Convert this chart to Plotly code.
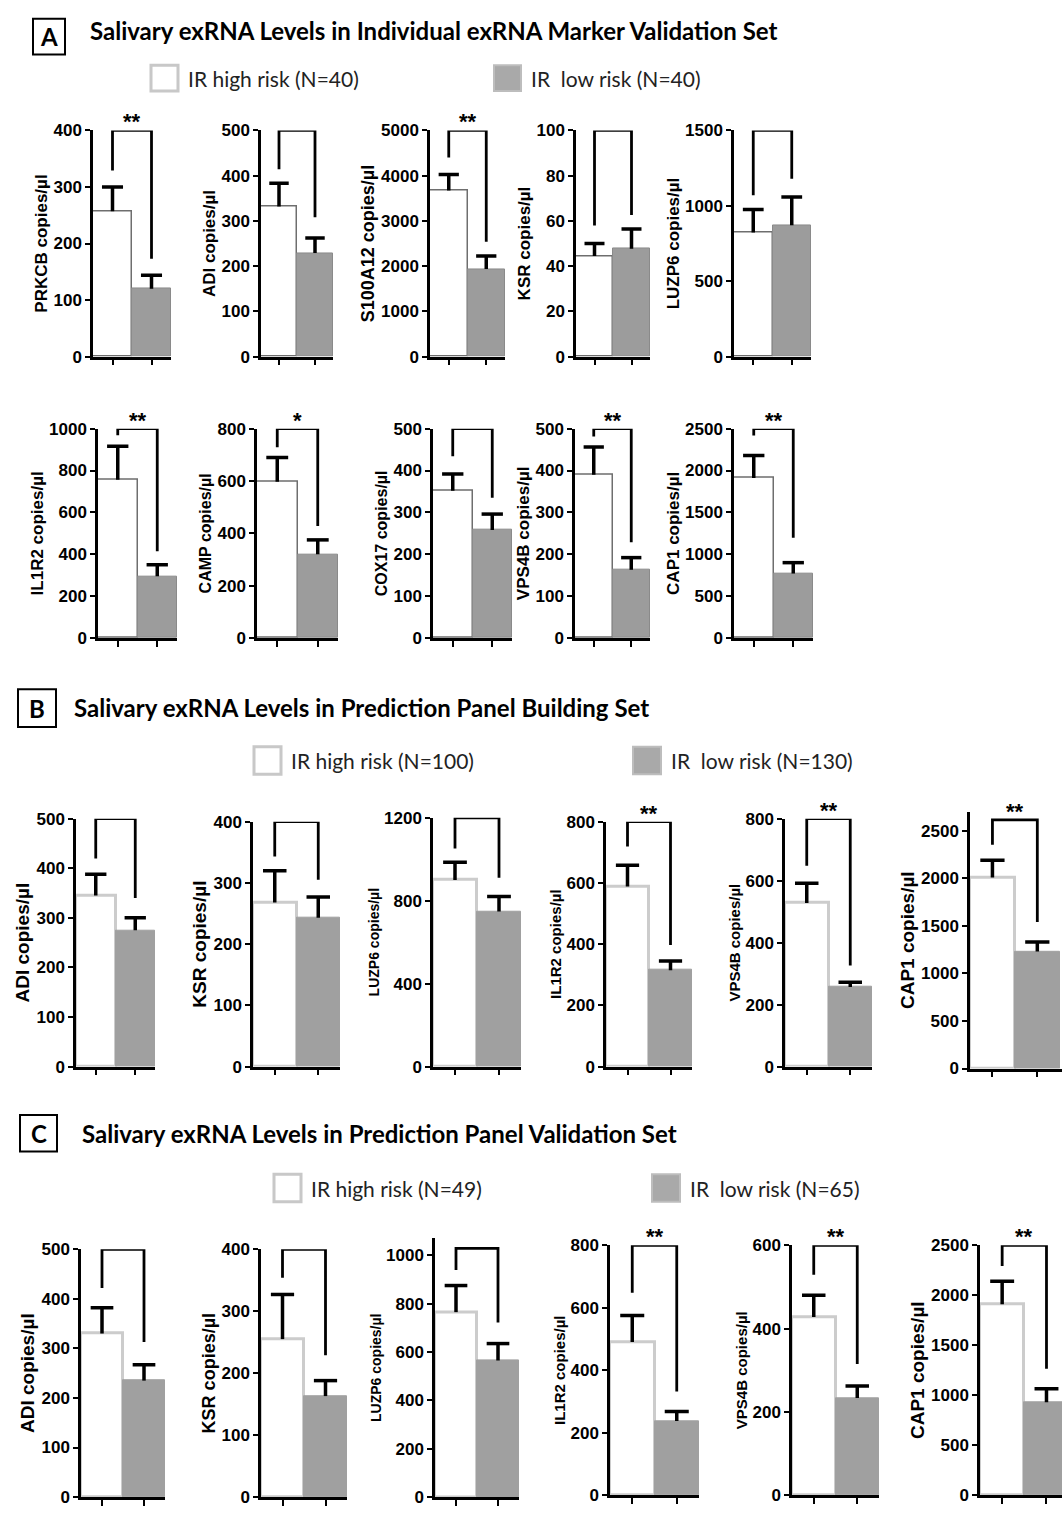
import plotly.graph_objects as go

W, H = 1062, 1515

# ---------------- DATA ----------------
# Section A: Individual exRNA Marker Validation Set
A_genes = ["PRKCB", "ADI", "S100A12", "KSR", "LUZP6", "IL1R2", "CAMP", "COX17", "VPS4B", "CAP1"]
A_high = [257, 332, 3670, 44.5, 823, 756, 597, 352, 390, 1910]
A_high_sem = [43, 51, 355, 5.5, 153, 160, 93, 40, 66, 270]
A_low = [120, 229, 1936, 47.7, 871, 295, 320, 258, 163, 770]
A_low_sem = [24, 33, 289, 8.7, 188, 55, 55, 38, 29, 130]
A_sig = ["**", "", "**", "", "", "**", "*", "", "**", "**"]
A_brk_top = [400, 500, 5000, 100, 1500, 1000, 800, 500, 500, 2500]
A_brk_left = [329, 414, 4400, 58, 1070, 968, 729, 434, 481, 2417]
A_brk_right = [173, 308, 2540, 62.6, 1179, 415, 428, 335, 229, 1197]
A_ytick_max = [400, 500, 5000, 100, 1500, 1000, 800, 500, 500, 2500]
A_dtick = [100, 100, 1000, 20, 500, 200, 200, 100, 100, 500]
A_ytop = [400, 500, 5000, 100, 1500, 1000, 800, 500, 500, 2500]

# Section B: Prediction Panel Building Set
B_genes = ["ADI", "KSR", "LUZP6", "IL1R2", "VPS4B", "CAP1"]
B_high = [345, 268, 900, 588, 528, 2010]
B_high_sem = [43, 52, 85, 70, 64, 180]
B_low = [275, 243, 748, 315, 257, 1230]
B_low_sem = [25, 34, 72, 30, 15, 100]
B_sig = ["", "", "", "**", "**", "**"]
B_brk_top = [500, 400, 1200, 800, 800, 2615]
B_brk_left = [420, 343, 1052, 719, 648, 2354]
B_brk_right = [340, 305, 910, 397, 326, 1540]
B_ytick_max = [500, 400, 1200, 800, 800, 2500]
B_dtick = [100, 100, 400, 200, 200, 500]
B_ytop = [500, 400, 1200, 800, 800, 2700]

# Section C: Prediction Panel Validation Set
C_genes = ["ADI", "KSR", "LUZP6", "IL1R2", "VPS4B", "CAP1"]
C_high = [330, 255, 765, 490, 428, 1910]
C_high_sem = [52, 72, 110, 85, 52, 230]
C_low = [235, 163, 565, 237, 233, 930]
C_low_sem = [32, 25, 70, 31, 29, 135]
C_sig = ["", "", "", "**", "**", "**"]
C_brk_top = [500, 400, 1029, 800, 600, 2500]
C_brk_left = [422, 354, 939, 648, 529, 2292]
C_brk_right = [313, 229, 722, 332, 315, 1265]
C_ytick_max = [500, 400, 1000, 800, 600, 2500]
C_dtick = [100, 100, 200, 200, 200, 500]
C_ytop = [500, 400, 1070, 800, 600, 2500]

# Text
sec_letters = ["A", "B", "C"]
sec_titles = [
    "Salivary exRNA Levels in Individual exRNA Marker Validation Set",
    "Salivary exRNA Levels in Prediction Panel Building Set",
    "Salivary exRNA Levels in Prediction Panel Validation Set",
]
legend_high = ["IR high risk (N=40)", "IR high risk (N=100)", "IR high risk (N=49)"]
legend_low = ["IR  low risk (N=40)", "IR  low risk (N=130)", "IR  low risk (N=65)"]

# ---------------- LAYOUT (pixel geometry) ----------------
A_left = [93, 261, 430, 576, 734, 98, 257, 433, 575, 734]
A_right = [171, 333, 505, 650, 811, 177, 338, 512, 650, 813]
A_top = [123] * 5 + [425] * 5
A_bot = [352] * 5 + [637] * 5
A_xmax = [1.5] * 10
A_tsize = [17, 17, 18, 17, 17, 17, 16, 16, 17, 17]
B_left = [76, 253, 433, 606, 785, 970]
B_right = [155, 340, 521, 692, 872, 1062]
B_top = [820, 823, 819, 823, 820, 813]
B_bot = [1071, 1071, 1071, 1071, 1071, 1073]
B_xmax = [1.5, 1.5, 1.5, 1.5, 1.5, 1.55]
B_tsize = [19, 19, 14, 15, 15, 19]
C_left = [81, 261, 435, 610, 792, 980]
C_right = [165, 347, 519, 699, 879, 1062]
C_top = [1256, 1256, 1245, 1252, 1252, 1252]
C_bot = [1507, 1507, 1507, 1505, 1505, 1505]
C_xmax = [1.5, 1.5, 1.5, 1.5, 1.5, 1.35]
C_tsize = [19, 18, 14, 15, 15, 19]
CAP_HALF = 0.27  # error-bar cap half width, in bar widths


def fx(p):
    return p / W


def fy(p):
    return 1 - p / H


TICK_FONT = dict(family="Liberation Sans, Arial, sans-serif", size=17, color="black", weight="bold")
TITLE_FAMILY = "Liberation Sans, Arial, sans-serif"

sections = [
    dict(genes=A_genes, high=A_high, hs=A_high_sem, low=A_low, ls=A_low_sem, sig=A_sig,
         bt=A_brk_top, bl=A_brk_left, br=A_brk_right, tmax=A_ytick_max, dt=A_dtick, ytop=A_ytop,
         left=A_left, right=A_right, top=A_top, bot=A_bot, xmax=A_xmax, tsize=A_tsize,
         white_line="#6e6e6e", white_lw=1.5, grey="#9c9c9c", grey_line="#8a8a8a"),
    dict(genes=B_genes, high=B_high, hs=B_high_sem, low=B_low, ls=B_low_sem, sig=B_sig,
         bt=B_brk_top, bl=B_brk_left, br=B_brk_right, tmax=B_ytick_max, dt=B_dtick, ytop=B_ytop,
         left=B_left, right=B_right, top=B_top, bot=B_bot, xmax=B_xmax, tsize=B_tsize,
         white_line="#cccccc", white_lw=3, grey="#a0a0a0", grey_line="#a0a0a0"),
    dict(genes=C_genes, high=C_high, hs=C_high_sem, low=C_low, ls=C_low_sem, sig=C_sig,
         bt=C_brk_top, bl=C_brk_left, br=C_brk_right, tmax=C_ytick_max, dt=C_dtick, ytop=C_ytop,
         left=C_left, right=C_right, top=C_top, bot=C_bot, xmax=C_xmax, tsize=C_tsize,
         white_line="#cccccc", white_lw=3, grey="#a0a0a0", grey_line="#a0a0a0"),
]

fig = go.Figure()
layout_axes = {}
annotations = []
shapes = []

n = 0
for sec in sections:
    for i, gene in enumerate(sec["genes"]):
        n += 1
        xa = "x" if n == 1 else f"x{n}"
        ya = "y" if n == 1 else f"y{n}"
        xkey = "xaxis" if n == 1 else f"xaxis{n}"
        ykey = "yaxis" if n == 1 else f"yaxis{n}"
        h, hs, lo, ls = sec["high"][i], sec["hs"][i], sec["low"][i], sec["ls"][i]

        fig.add_trace(go.Bar(
            x=[0, 1], y=[h, lo], width=1,
            marker=dict(color=["white", sec["grey"]],
                        line=dict(color=[sec["white_line"], sec["grey_line"]],
                                  width=[sec["white_lw"], 1])),
            xaxis=xa, yaxis=ya, showlegend=False, hoverinfo="skip",
        ))
        # upper-only error bars (stem + cap)
        fig.add_trace(go.Scatter(
            x=[0, 0, None, -CAP_HALF, CAP_HALF, None, 1, 1, None, 1 - CAP_HALF, 1 + CAP_HALF],
            y=[h, h + hs, None, h + hs, h + hs, None, lo, lo + ls, None, lo + ls, lo + ls],
            mode="lines", line=dict(color="black", width=3.5),
            xaxis=xa, yaxis=ya, showlegend=False, hoverinfo="skip", cliponaxis=False,
        ))
        # significance bracket
        fig.add_trace(go.Scatter(
            x=[0, 0, 1, 1], y=[sec["bl"][i], sec["bt"][i], sec["bt"][i], sec["br"][i]],
            mode="lines", line=dict(color="black", width=2.8),
            xaxis=xa, yaxis=ya, showlegend=False, hoverinfo="skip", cliponaxis=False,
        ))
        if sec["sig"][i]:
            annotations.append(dict(
                x=0.5, y=sec["bt"][i], xref=xa, yref=ya, text=sec["sig"][i],
                showarrow=False, yanchor="bottom", yshift=-6,
                font=dict(family="Liberation Sans, Arial, sans-serif", size=22,
                          color="black", weight="bold"),
            ))

        layout_axes[xkey] = dict(
            domain=[fx(sec["left"][i]), fx(sec["right"][i])], anchor=ya,
            range=[-0.5, sec["xmax"][i]], tickvals=[0, 1], showticklabels=False,
            ticks="outside", ticklen=6, tickwidth=2, tickcolor="black",
            showline=True, linewidth=2.5, linecolor="black",
            showgrid=False, zeroline=False, fixedrange=True,
        )
        tv = list(range(0, sec["tmax"][i] + 1, sec["dt"][i]))
        layout_axes[ykey] = dict(
            domain=[fy(sec["bot"][i]), fy(sec["top"][i])], anchor=xa,
            range=[0, sec["ytop"][i]], tickvals=tv, ticktext=[str(v) for v in tv],
            ticks="outside", ticklen=5, tickwidth=2, tickcolor="black",
            tickfont=TICK_FONT,
            showline=True, linewidth=2.5, linecolor="black",
            showgrid=False, zeroline=False, fixedrange=True,
            title=dict(text=f"{gene} copies/µl", standoff=2,
                       font=dict(family=TITLE_FAMILY, size=sec["tsize"][i],
                                 color="black", weight="bold")),
        )

# Section headers and legends (pixel geometry)
hdr_box = [(33, 10, 65, 46), (18, 689, 56, 727), (20, 1120, 57, 1157)]
hdr_text_x = [88, 72, 80]
hdr_y = [22, 707, 1139]
leg_white = [(151, 57, 178, 83), (254, 747, 281, 775), (274, 1180, 301, 1208)]
leg_grey = [(494, 57, 521, 83), (633, 747, 661, 775), (652, 1180, 680, 1208)]

for k in range(3):
    x0, y0, x1, y1 = hdr_box[k]
    shapes.append(dict(type="rect", xref="paper", yref="paper",
                       x0=fx(x0), x1=fx(x1), y0=fy(y1), y1=fy(y0),
                       line=dict(color="black", width=2), fillcolor="rgba(0,0,0,0)"))
    annotations.append(dict(x=fx((x0 + x1) / 2), y=fy((y0 + y1) / 2), xref="paper", yref="paper",
                            text=sec_letters[k], showarrow=False, xanchor="center", yanchor="middle",
                            font=dict(family="Lato, Open Sans, sans-serif", size=24,
                                      color="black", weight="bold")))
    annotations.append(dict(x=fx(hdr_text_x[k]), y=fy(hdr_y[k]), xref="paper", yref="paper",
                            text=sec_titles[k], showarrow=False, xanchor="left", yanchor="middle",
                            font=dict(family="Lato, Open Sans, sans-serif", size=24,
                                      color="black", weight="bold")))
    wx0, wy0, wx1, wy1 = leg_white[k]
    shapes.append(dict(type="rect", xref="paper", yref="paper",
                       x0=fx(wx0), x1=fx(wx1), y0=fy(wy1), y1=fy(wy0),
                       line=dict(color="#c8c8c8", width=3), fillcolor="white"))
    annotations.append(dict(x=fx(wx1 + 8), y=fy((wy0 + wy1) / 2), xref="paper", yref="paper",
                            text=legend_high[k], showarrow=False, xanchor="left", yanchor="middle",
                            font=dict(family="Lato, Open Sans, sans-serif", size=21, color="#222")))
    gx0, gy0, gx1, gy1 = leg_grey[k]
    shapes.append(dict(type="rect", xref="paper", yref="paper",
                       x0=fx(gx0), x1=fx(gx1), y0=fy(gy1), y1=fy(gy0),
                       line=dict(color="#bdbdbd", width=2), fillcolor="#a9a9a9"))
    annotations.append(dict(x=fx(gx1 + 8), y=fy((gy0 + gy1) / 2), xref="paper", yref="paper",
                            text=legend_low[k].replace("  ", "&nbsp; "), showarrow=False,
                            xanchor="left", yanchor="middle",
                            font=dict(family="Lato, Open Sans, sans-serif", size=21, color="#222")))

fig.update_layout(
    width=W, height=H, margin=dict(l=0, r=0, t=0, b=0),
    paper_bgcolor="white", plot_bgcolor="rgba(0,0,0,0)",
    bargap=0, showlegend=False,
    annotations=annotations, shapes=shapes,
    **layout_axes,
)

fig.write_html("out.html", config={"displayModeBar": False},
               post_script="document.body.style.margin='0';")
